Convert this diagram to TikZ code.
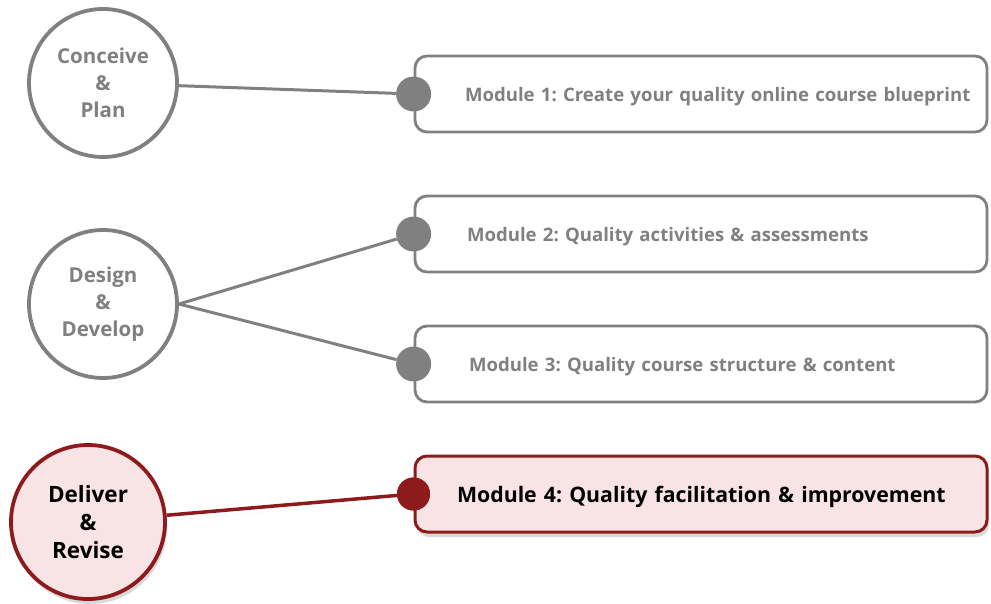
\documentclass[tikz,border=0pt]{standalone}
\usepackage{fontspec}
\setmainfont{Open Sans}
\usetikzlibrary{shadows}
\frenchspacing

\definecolor{stepgray}{HTML}{808080}
\definecolor{darkred}{HTML}{8E1B1B}
\definecolor{lightpink}{HTML}{F9E4E5}

\tikzset{
  phase/.style={circle,draw=stepgray,line width=3.8pt,minimum size=148pt,align=center,
    text=stepgray,font=\fontsize{20.5}{27}\selectfont\bfseries,inner sep=0pt},
  modbox/.style={rectangle,rounded corners=12pt,draw=stepgray,line width=2.8pt,
    minimum height=76pt,text width=542pt,inner xsep=15pt,align=left,text depth=0pt,
    text=stepgray,font=\fontsize{18.6}{22}\selectfont\bfseries},
  knob/.style={circle,fill=stepgray,minimum size=35pt,inner sep=0pt},
  link/.style={stepgray,line width=3pt},
  active/.style={draw=darkred,fill=lightpink,text=black,
    drop shadow={opacity=0.3,shadow xshift=2pt,shadow yshift=-5pt}}
}

\begin{document}
\begin{tikzpicture}[x=1pt,y=-1pt]
  %rammen
  	\useasboundingbox (0,0) rectangle (991,603);

  %faser
  	\node[phase] (plan) at (103,83) {Conceive\\\&\\Plan};
  	\node[phase] (develop) at (103,304) {Design\\\&\\Develop};
  	\node[phase,active,minimum size=154pt,font=\fontsize{22.5}{28}\selectfont\bfseries] (revise) at (88,522) {Deliver\\\&\\Revise};

  %moduler
  	\node[modbox] (m1) at (701,94) {\hspace*{35pt}Module 1: Create your quality online course blueprint};
  	\node[modbox] (m2) at (701,234) {\hspace*{37pt}Module 2: Quality activities \& assessments};
  	\node[modbox] (m3) at (701,364) {\hspace*{39pt}Module 3: Quality course structure \& content};
  	\node[modbox,active,line width=3pt,font=\fontsize{21.3}{24}\selectfont\bfseries] (m4) at (701,494) {\hspace*{27pt}Module 4: Quality facilitation \& improvement};

  %knapper
  	\node[knob] (k1) at (m1.west) {};
  	\node[knob] (k2) at (m2.west) {};
  	\node[knob] (k3) at (m3.west) {};
  	\node[knob,fill=darkred,minimum size=33pt] (k4) at (m4.west) {};

  %forbindelser
  	\draw[link] (plan) -- (k1);
  	\draw[link] (develop.east) -- (k2);
  	\draw[link] (develop.east) -- (k3);
  	\draw[link,darkred,line width=3.5pt,drop shadow={opacity=0.25,shadow xshift=2pt,shadow yshift=-5pt}] (revise) -- (k4);
  	\node[knob,fill=darkred,minimum size=33pt] at (k4) {};
\end{tikzpicture}
\end{document}
